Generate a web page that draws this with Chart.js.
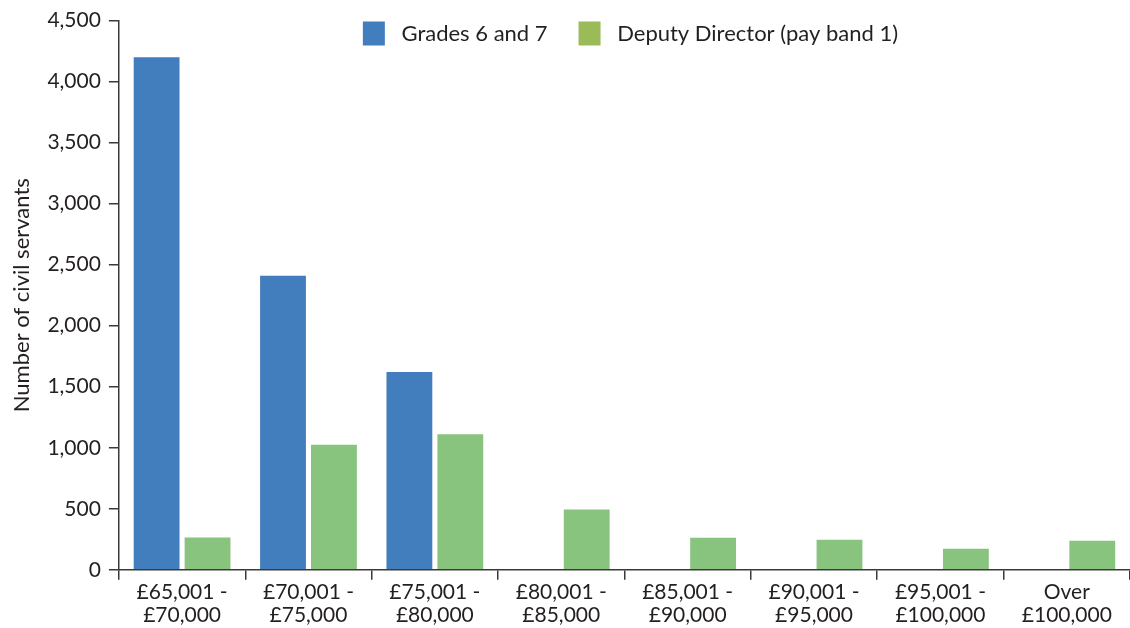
<!DOCTYPE html>
<html>
<head>
<meta charset="utf-8">
<script src="https://cdn.jsdelivr.net/npm/chart.js@4/dist/chart.umd.min.js"></script>
<style>
  html, body { margin: 0; padding: 0; background: #fff; }
  #wrap { width: 1130px; height: 628px; }
</style>
</head>
<body>
<div id="wrap"><canvas id="chartPayBands"></canvas></div>
<script>
const PAY_BANDS = [
  ['£65,001 -', '£70,000'],
  ['£70,001 -', '£75,000'],
  ['£75,001 -', '£80,000'],
  ['£80,001 -', '£85,000'],
  ['£85,001 -', '£90,000'],
  ['£90,001 -', '£95,000'],
  ['£95,001 -', '£100,000'],
  ['Over', '£100,000']
];
const GRADES_6_7 = [4200, 2410, 1620, 0, 0, 0, 0, 0];
const DEPUTY_DIRECTOR = [265, 1025, 1110, 495, 263, 246, 172, 238];

const BLUE = '#427EBD';
const GREEN = '#89C47F';
const GREEN_KEY = '#9BBB59';
const INK = '#231F20';
const AXIS = '#3A3A3A';
const FONT = 'Lato, sans-serif';

const fmt = v => v.toLocaleString('en-GB');

// legend sits over the plot: no room reserved in the layout,
// then it is moved onto the plot area and given its height back
const floatingLegend = {
  id: 'floatingLegend',
  afterInit(chart) {
    const lg = chart.legend;
    const fit = lg.fit;
    lg.fit = function() { fit.call(this); this._realHeight = this.height; this.height = 0; };
  },
  afterLayout(chart) {
    const lg = chart.legend;
    const area = chart.chartArea;
    lg.left = area.left + 12;
    lg.right = area.right;
    lg.width = lg.right - lg.left;
    lg.top = area.top - 30;
    lg.height = lg._realHeight || 80;
    lg.bottom = lg.top + lg.height;
  }
};

new Chart(document.getElementById('chartPayBands'), {
  type: 'bar',
  data: {
    labels: PAY_BANDS,
    datasets: [
      { label: 'Grades 6 and 7', data: GRADES_6_7, backgroundColor: BLUE },
      { label: 'Deputy Director (pay band 1)', data: DEPUTY_DIRECTOR, backgroundColor: GREEN }
    ]
  },
  plugins: [floatingLegend],
  options: {
    responsive: true, maintainAspectRatio: false, animation: false,
    categoryPercentage: 0.806, barPercentage: 0.9,
    layout: { padding: { left: 5, right: 0, top: 12, bottom: 0 } },
    plugins: {
      tooltip: { enabled: false },
      legend: {
        position: 'top', align: 'center',
        labels: {
          color: INK, font: { family: FONT, size: 22 },
          boxWidth: 22, boxHeight: 24, padding: 31,
          generateLabels: chart => chart.data.datasets.map((ds, i) => ({
            text: ' ' + ds.label,
            fillStyle: i === 0 ? BLUE : GREEN_KEY,
            strokeStyle: 'transparent', lineWidth: 0,
            fontColor: INK, datasetIndex: i
          }))
        }
      }
    },
    scales: {
      x: {
        border: { color: AXIS, width: 1.5 },
        grid: { display: true, drawOnChartArea: false, drawTicks: true, tickLength: 10, color: AXIS, lineWidth: 1.5 },
        ticks: { color: INK, font: { family: FONT, size: 21, lineHeight: 1.1 }, padding: 1, maxRotation: 0, autoSkip: false }
      },
      y: {
        min: 0, max: 4500,
        border: { color: AXIS, width: 1.5 },
        grid: { display: true, drawOnChartArea: false, drawTicks: true, tickLength: 10, color: AXIS, lineWidth: 1.5 },
        ticks: { stepSize: 500, color: INK, font: { family: FONT, size: 21 }, padding: 8, callback: v => fmt(v) },
        title: { display: true, text: 'Number of civil servants', color: INK, font: { family: FONT, size: 22 }, padding: { bottom: 4 } }
      }
    }
  }
});
</script>
</body>
</html>
